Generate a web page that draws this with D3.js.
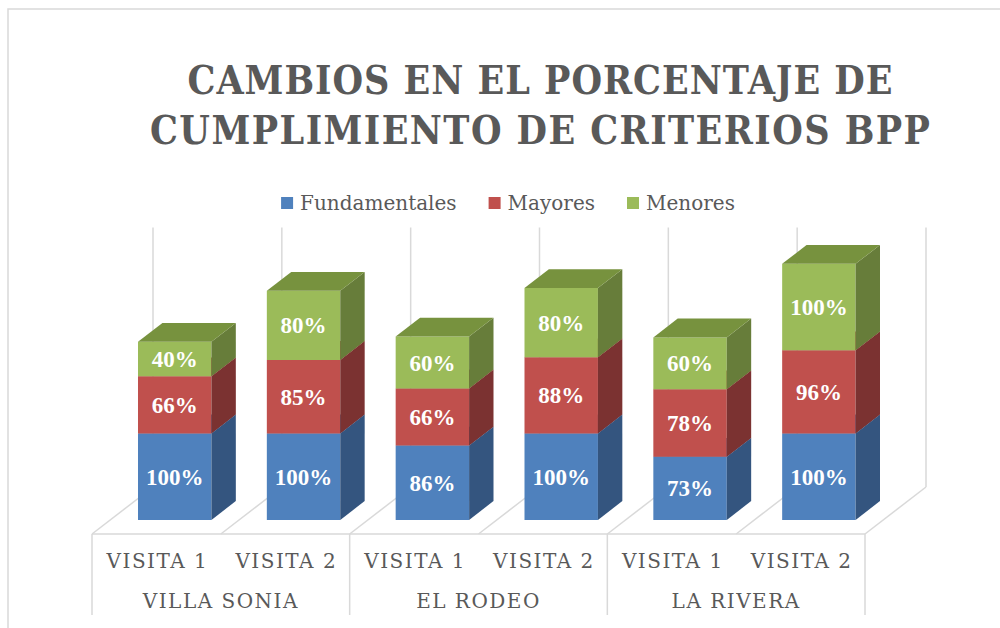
<!DOCTYPE html>
<html>
<head>
<meta charset="utf-8">
<script src="https://cdn.jsdelivr.net/npm/d3@7"></script>
<style>
  body { margin: 0; background: #fff; }
  svg { display: block; }
</style>
</head>
<body>
<div id="chart"></div>
<script>
// data
const groups = ["VILLA SONIA", "EL RODEO", "LA RIVERA"]
const visits = ["VISITA 1", "VISITA 2"]
const seriesNames = ["Fundamentales", "Mayores", "Menores"]
const fundamentales = [100, 100, 86, 100, 73, 100]
const mayores = [66, 85, 66, 88, 78, 96]
const menores = [40, 80, 60, 80, 60, 100]
const yMax = 300
const titleLines = ["CAMBIOS EN EL PORCENTAJE DE", "CUMPLIMIENTO DE CRITERIOS BPP"]

const width = 1000, height = 628
const floorY = 534
const depth = {dx: 61, dy: -47}
const barZ = [0.3, 0.7]
const grid = '#d9d9d9'
const textColor = '#595959'

const colors = {
    Fundamentales: {front: '#4f81bd', side: '#34557f', top: '#4673a8'},
    Mayores: {front: '#c0504d', side: '#7b3231', top: '#a04340'},
    Menores: {front: '#9bbb59', side: '#677d3a', top: '#77923e'}
}

// one row per bar
const cats = []
groups.forEach(g => visits.forEach(v => cats.push(g + '|' + v)))
const rows = cats.map((c, i) => ({
    cat: c,
    Fundamentales: fundamentales[i],
    Mayores: mayores[i],
    Menores: menores[i]
}))

const x = d3.scaleBand()
    .domain(cats)
    .range([92, 865])
    .paddingInner(0.43)
    .paddingOuter(0.215)

const xGroup = d3.scaleBand()
    .domain(groups)
    .range([92, 865])

const y = d3.scaleLinear()
    .domain([0, yMax])
    .range([0, 259.5])

// oblique projection: x on the front plane, value, depth 0..1
function proj(px, v, z) {
    return [px + z * depth.dx, floorY - y(v) + z * depth.dy]
}

const svg = d3.select('#chart')
    .append('svg')
    .attr('width', width)
    .attr('height', height)

// chart border
svg.append('path')
    .attr('d', 'M8,' + height + 'V9H' + width)
    .attr('fill', 'none')
    .attr('stroke', grid)
    .attr('stroke-width', 1.5)

// title
svg.append('g')
    .selectAll('text')
    .data(titleLines)
    .join('text')
    .attr('x', 540)
    .attr('y', (d, i) => 94 + i * 50)
    .attr('text-anchor', 'middle')
    .attr('textLength', (d, i) => i === 0 ? 705 : 780)
    .attr('lengthAdjust', 'spacing')
    .style('font-family', "'DejaVu Serif Condensed', 'DejaVu Serif', serif")
    .style('font-stretch', 'condensed')
    .style('font-weight', 'bold')
    .style('font-size', '39px')
    .style('fill', textColor)
    .text(d => d)

// legend
const legend = svg.append('g')
const items = legend.selectAll('g')
    .data(seriesNames)
    .join('g')
items.append('rect')
    .attr('y', 197)
    .attr('width', 12)
    .attr('height', 12)
    .attr('fill', d => colors[d].front)
items.append('text')
    .attr('x', 19)
    .attr('y', 210)
    .style('font-family', "'DejaVu Serif', serif")
    .style('font-size', '20px')
    .style('fill', textColor)
    .text(d => d)
let lx = 0
items.each(function() {
    const g = d3.select(this)
    g.attr('transform', 'translate(' + lx + ',0)')
    lx += 19 + g.select('text').node().getComputedTextLength() + 32
})
lx -= 32
legend.attr('transform', 'translate(' + (508 - lx / 2) + ',0)')

// walls and floor
const bounds = d3.range(cats.length + 1).map(k => 92 + k * x.step())
const lines = svg.append('g')
    .attr('fill', 'none')
    .attr('stroke', grid)
    .attr('stroke-width', 1.5)

lines.selectAll('.wall')
    .data(bounds)
    .join('line')
    .attr('class', 'wall')
    .attr('x1', d => proj(d, 0, 1)[0])
    .attr('y1', d => proj(d, 0, 1)[1])
    .attr('x2', d => proj(d, yMax, 1)[0])
    .attr('y2', d => proj(d, yMax, 1)[1])

lines.selectAll('.floor')
    .data(bounds)
    .join('line')
    .attr('class', 'floor')
    .attr('x1', d => proj(d, 0, 0)[0])
    .attr('y1', d => proj(d, 0, 0)[1])
    .attr('x2', d => proj(d, 0, 1)[0])
    .attr('y2', d => proj(d, 0, 1)[1])

lines.append('line')
    .attr('x1', 92).attr('x2', 865)
    .attr('y1', floorY).attr('y2', floorY)

const groupBounds = groups.map(g => xGroup(g)).concat([865])
lines.selectAll('.sep')
    .data(groupBounds)
    .join('line')
    .attr('class', 'sep')
    .attr('x1', d => d).attr('x2', d => d)
    .attr('y1', floorY).attr('y2', 615)

// bars
const stacked = d3.stack().keys(seriesNames)(rows)
const pts = a => a.map(p => p.join(',')).join(' ')

const layers = svg.append('g')
    .selectAll('g')
    .data(stacked)
    .join('g')

const segs = layers.selectAll('g')
    .data(s => s.map(d => ({key: s.key, v0: d[0], v1: d[1], cat: d.data.cat, val: d.data[s.key]})))
    .join('g')

segs.append('polygon')
    .attr('fill', d => colors[d.key].front)
    .attr('points', d => {
        const x0 = x(d.cat), x1 = x(d.cat) + x.bandwidth()
        return pts([proj(x0, d.v0, barZ[0]), proj(x1, d.v0, barZ[0]), proj(x1, d.v1, barZ[0]), proj(x0, d.v1, barZ[0])])
    })

segs.append('polygon')
    .attr('fill', d => colors[d.key].side)
    .attr('points', d => {
        const x1 = x(d.cat) + x.bandwidth()
        return pts([proj(x1, d.v0, barZ[0]), proj(x1, d.v0, barZ[1]), proj(x1, d.v1, barZ[1]), proj(x1, d.v1, barZ[0])])
    })

segs.append('polygon')
    .attr('fill', d => colors[d.key].top)
    .attr('points', d => {
        const x0 = x(d.cat), x1 = x(d.cat) + x.bandwidth()
        return pts([proj(x0, d.v1, barZ[0]), proj(x1, d.v1, barZ[0]), proj(x1, d.v1, barZ[1]), proj(x0, d.v1, barZ[1])])
    })

// data labels
svg.append('g')
    .selectAll('text')
    .data(stacked.flatMap(s => s.map(d => ({key: s.key, v0: d[0], v1: d[1], cat: d.data.cat, val: d.data[s.key]}))))
    .join('text')
    .attr('x', d => proj(x(d.cat) + x.bandwidth() / 2, 0, barZ[0])[0])
    .attr('y', d => proj(0, (d.v0 + d.v1) / 2, barZ[0])[1])
    .attr('dy', '0.35em')
    .attr('text-anchor', 'middle')
    .style('font-family', "'Liberation Serif', serif")
    .style('font-weight', 'bold')
    .style('font-size', '23px')
    .style('fill', '#fff')
    .text(d => d.val + '%')

// category labels
const axisText = sel => sel
    .attr('text-anchor', 'middle')
    .style('font-family', "'DejaVu Serif', serif")
    .style('font-size', '20px')
    .style('letter-spacing', '1.5px')
    .style('fill', textColor)

svg.append('g')
    .selectAll('text')
    .data(cats)
    .join('text')
    .attr('x', d => x(d) + x.bandwidth() / 2 + 1)
    .attr('y', 568)
    .call(axisText)
    .text(d => d.split('|')[1])

svg.append('g')
    .selectAll('text')
    .data(groups)
    .join('text')
    .attr('x', d => xGroup(d) + xGroup.bandwidth() / 2)
    .attr('y', 608)
    .call(axisText)
    .text(d => d)
</script>
</body>
</html>
